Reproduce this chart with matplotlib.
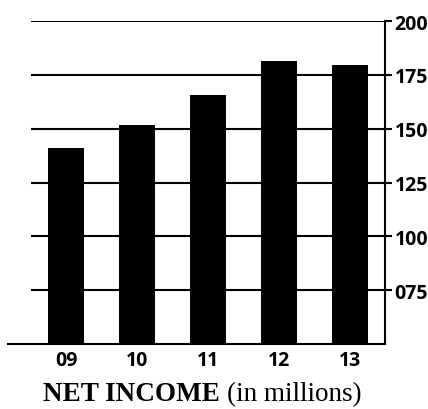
import matplotlib
matplotlib.use("Agg")
import matplotlib.pyplot as plt

years = ["09", "10", "11", "12", "13"]
net_income = [141, 151.5, 165.5, 181.5, 179.5]
y_ticks = [75, 100, 125, 150, 175, 200]
y_tick_labels = ["075", "100", "125", "150", "175", "200"]

fig = plt.figure(figsize=(4.28, 4.10), dpi=100)
ax = fig.add_axes([0.0187, 0.1585, 0.8808, 0.7878])

x = list(range(len(years)))
# gridlines start a bit right of the baseline
ax.hlines(y_ticks, -0.49, 4.49, color="black", lw=1.5, zorder=1)
ax.bar(x, net_income, width=0.51, color="black", zorder=2)

ax.set_xlim(-0.82, 4.49)
ax.set_ylim(50, 200)

for side in ("left", "top"):
    ax.spines[side].set_visible(False)
ax.spines["right"].set_linewidth(1.5)
ax.spines["bottom"].set_linewidth(1.5)

ax.yaxis.tick_right()
ax.set_yticks(y_ticks)
ax.set_yticklabels(y_tick_labels, fontfamily="Open Sans", fontweight="bold", fontsize=14)
ax.tick_params(axis="y", direction="out", length=5, width=1.5, pad=2)

ax.set_xticks(x)
ax.set_xticklabels(years, fontfamily="Open Sans", fontweight="bold", fontsize=14)
ax.tick_params(axis="x", length=0, pad=4)

fig.text(0.10, 0.022, "NET INCOME", fontfamily="Liberation Serif", fontweight="bold",
         fontsize=19.5, ha="left", va="baseline")
fig.text(0.845, 0.022, "(in millions)", fontfamily="Liberation Serif",
         fontsize=19.5, ha="right", va="baseline")

fig.savefig("out.png", dpi=100)
